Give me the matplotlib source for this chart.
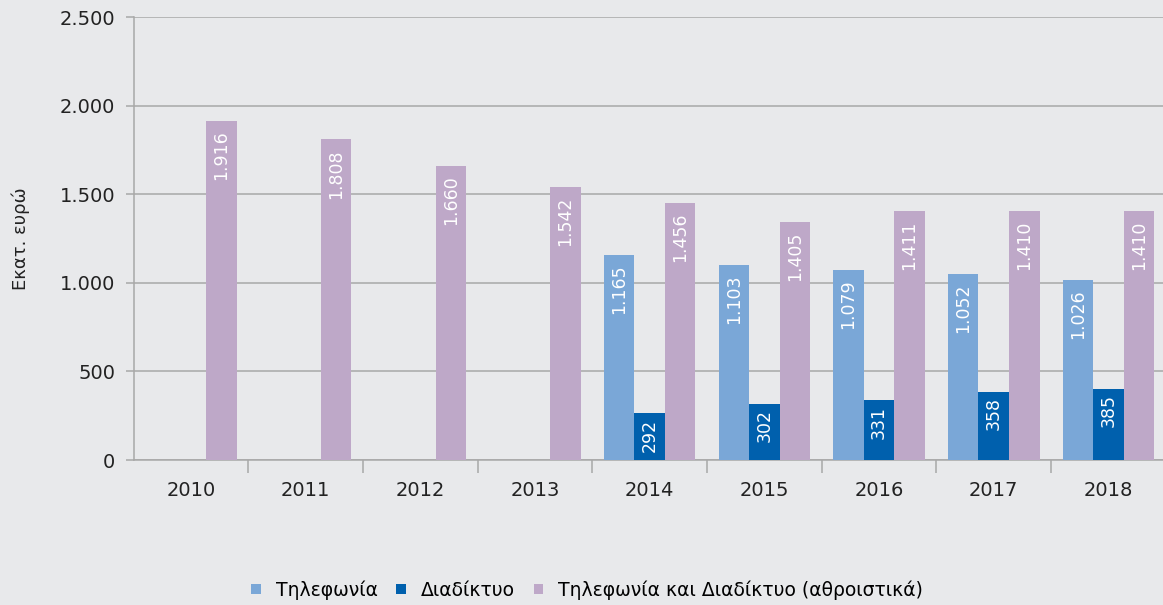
import numpy as np
from matplotlib import pyplot as plt
from matplotlib.ticker import FuncFormatter, FixedLocator

plt.rcParams['font.family'] = ['DejaVu Sans']

years = ['2010', '2011', '2012', '2013', '2014', '2015', '2016', '2017', '2018']

# bar heights as drawn in the picture (mio EUR)
tel_values = [np.nan, np.nan, np.nan, np.nan, 1159, 1103, 1075, 1052, 1018]
net_values = [np.nan, np.nan, np.nan, np.nan, 266, 317, 339, 385, 402]
sum_values = [1917, 1810, 1663, 1544, 1454, 1346, 1408, 1408, 1408]

# the labels printed inside the bars
tel_labels = ['', '', '', '', '1.165', '1.103', '1.079', '1.052', '1.026']
net_labels = ['', '', '', '', '292', '302', '331', '358', '385']
sum_labels = ['1.916', '1.808', '1.660', '1.542', '1.456', '1.405', '1.411', '1.410', '1.410']

series_names = ['Τηλεφωνία', 'Διαδίκτυο', 'Τηλεφωνία και Διαδίκτυο (αθροιστικά)']
colors = ['#7aa7d7', '#0060ad', '#bea8c8']
bg = '#e8e9eb'
grid_col = '#a8a8a8'

fig = plt.figure(figsize=(11.63, 6.05), dpi=100, facecolor=bg)
ax = fig.add_axes([133.5 / 1163, 145 / 605, 1 - 133.5 / 1163, 442.7 / 605])
ax.set_facecolor(bg)

x = np.arange(len(years))
w = 0.266
groups = [(tel_values, tel_labels), (net_values, net_labels), (sum_values, sum_labels)]
for i, (vals, labs) in enumerate(groups):
    bars = ax.bar(x + (i - 1) * w, vals, w, color=colors[i], label=series_names[i], zorder=3)
    for b, v, lab in zip(bars, vals, labs):
        if lab == '':
            continue
        off = -4 if i == 1 else -7
        ax.annotate(lab, (b.get_x() + b.get_width() / 2, v),
                    xytext=(0, off), textcoords='offset points',
                    ha='center', va='top', rotation=90,
                    color='white', fontsize=12.5, zorder=4)

ax.set_ylim(0, 2500)
ax.set_xlim(-0.5, -0.5 + 1029.5 / 114.7)
ax.set_yticks(np.arange(0, 2501, 500))
ax.yaxis.set_major_formatter(FuncFormatter(lambda v, p: '{:,.0f}'.format(v).replace(',', '.')))
ax.grid(axis='y', color=grid_col, linewidth=1.1, zorder=0)

ax.set_xticks(x)
ax.set_xticklabels(years)
ax.xaxis.set_minor_locator(FixedLocator(x[:-1] + 0.5))
ax.tick_params(axis='x', which='major', length=0, pad=15, labelsize=14, labelcolor='#222222')
ax.tick_params(axis='x', which='minor', length=9, width=1.1, color=grid_col)
ax.tick_params(axis='y', length=6, width=1.1, color=grid_col, pad=7, labelsize=14, labelcolor='#222222')

for s in ['top', 'right']:
    ax.spines[s].set_visible(False)
for s in ['left', 'bottom']:
    ax.spines[s].set_color(grid_col)
    ax.spines[s].set_linewidth(1.1)

ax.set_ylabel('Εκατ. ευρώ', fontsize=13, color='#222222')
ax.yaxis.set_label_coords(-(133.5 - 30) / 1029.5, 0.5)

fig.legend(loc='center', bbox_to_anchor=(587 / 1163, 1 - 590 / 605), ncol=3, frameon=False,
           fontsize=13.5, handlelength=0.5, handleheight=0.5, handletextpad=0.8,
           columnspacing=1.0)

plt.savefig('out.png', dpi=100, facecolor=bg)
